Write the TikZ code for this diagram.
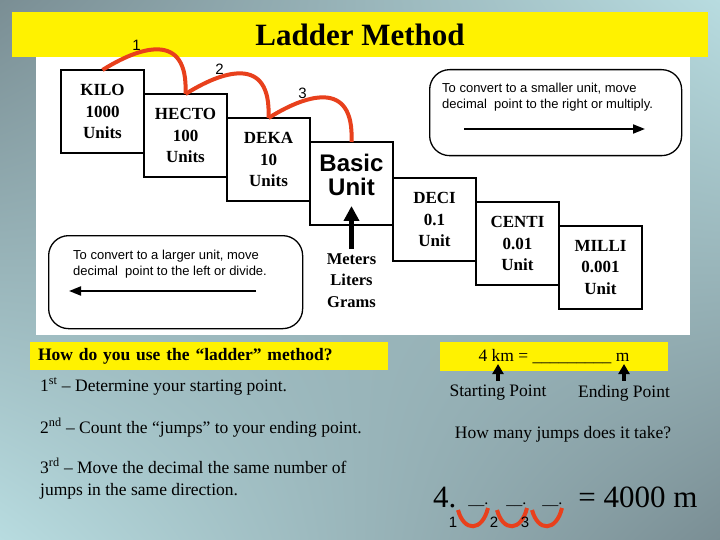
\documentclass[tikz,border=0pt]{standalone}
\usepackage{fontspec}
\setmainfont{Liberation Serif}
\setsansfont{Liberation Sans}
\usetikzlibrary{positioning,arrows.meta,shadings}

\definecolor{bgdark}{RGB}{122,142,148}
\definecolor{bglight}{RGB}{184,220,224}
\definecolor{jumpred}{RGB}{232,64,28}

\begin{document}
\begin{tikzpicture}[
    x=1pt, y=-1pt,
    unitbox/.style={draw, line width=1.4pt, minimum size=83pt, inner sep=0pt,
      outer sep=0pt, align=center, font=\bfseries\fontsize{17}{21.5}\selectfont},
    notebox/.style={draw, line width=1.3pt, rounded corners=20pt, minimum width=252pt,
      minimum height=86pt, inner sep=0pt},
    notetext/.style={align=left, inner sep=0pt, font=\sffamily\fontsize{13}{15.5}\selectfont},
    jumpline/.style={draw=jumpred, line width=4pt},
    jumpnum/.style={inner sep=1pt, font=\sffamily\fontsize{15}{15}\selectfont},
    yellowbar/.style={fill=yellow, inner sep=0pt},
    bodytext/.style={inner sep=0pt, font=\fontsize{17.5}{22}\selectfont},
    fatarrow/.style={line width=4.5pt, -{Triangle[length=15pt, width=15pt]}},
    midarrow/.style={line width=4pt, shorten <=4pt, -{Triangle[length=10pt, width=11pt]}},
    thinarrow/.style={line width=1.8pt, -{Triangle[length=12pt, width=9pt]}}
]

  \useasboundingbox (0,0) rectangle (720,540);

  % slide background
  \shade[upper left=bgdark, upper right=bglight, lower left=bglight, lower right=bgdark]
    (0,0) rectangle (720,540);
  \fill[white] (36,57) rectangle (690,335);

  \node[yellowbar, minimum width=696pt, minimum height=45pt,
    font=\bfseries\fontsize{31}{31}\selectfont] (title) at (360,34.5) {Ladder Method};

  % the ladder
  \node[unitbox] (kilo) at (102.5,111.5) {KILO\\1000\\Units};
  \node[unitbox, right=0pt of kilo, yshift=-24pt] (hecto) {HECTO\\100\\Units};
  \node[unitbox, right=0pt of hecto, yshift=-24pt] (deka) {DEKA\\10\\Units};
  \node[unitbox, right=0pt of deka, yshift=-24pt] (basic) {};
  \node[unitbox, right=0pt of basic, yshift=-36pt] (deci) {DECI\\0.1\\Unit};
  \node[unitbox, right=0pt of deci, yshift=-24pt] (centi) {CENTI\\0.01\\Unit};
  \node[unitbox, right=0pt of centi, yshift=-24pt] (milli) {MILLI\\0.001\\Unit};

  \node[align=center, font=\sffamily\bfseries\fontsize{24}{24}\selectfont]
    (basiclbl) at ([yshift=8.5pt]basic.center) {Basic\\Unit};
  \node[align=center, inner sep=4pt, below=24pt of basic,
    font=\bfseries\fontsize{16.5}{21.5}\selectfont] (meters) {Meters\\Liters\\Grams};
  \draw[fatarrow] (meters.north) -- ([yshift=19pt]basic.south);

  % jumps between the steps
  \foreach \a/\b [count=\n] in {kilo/hecto, hecto/deka, deka/basic}
    \draw[jumpline] (\a.north) .. controls +(35,-22) and +(3,-65) .. (\b.north)
      node[jumpnum, pos=0.3, above] {\n};

  % direction notes
  \node[notebox, anchor=north west] (smallerbox) at (429,69) {};
  \node[notetext, anchor=west] (smallertxt) at (442,97) {To convert to a smaller unit, move\\decimal\ \ point to the right or multiply.};
  \coordinate (smallerA) at (464,129);
  \coordinate (smallerB) at (645,129);
  \draw[thinarrow] (smallerA) -- (smallerB);

  \node[notebox, anchor=north west, minimum width=254pt, minimum height=93pt] (largerbox) at (48,235) {};
  \node[notetext, anchor=west] (largertxt) at (73,264) {To convert to a larger unit, move\\decimal\ \ point to the left or divide.};
  \coordinate (largerA) at (256,291);
  \coordinate (largerB) at (69,291);
  \draw[thinarrow] (largerA) -- (largerB);

  % how to use it
  \node[yellowbar, minimum width=358pt, minimum height=28pt, text width=342pt, align=left,
    font=\bfseries\fontsize{17.5}{22}\selectfont] (howto) at (209,356) {How do you use the “ladder” method?};
  \node[bodytext, anchor=base west] (step1) at (40,391) {1\textsuperscript{st} – Determine your starting point.};
  \node[bodytext, anchor=base west] (step2) at (40,433) {2\textsuperscript{nd} – Count the “jumps” to your ending point.};
  \node[bodytext, anchor=base west, align=left] (step3) at (40,495) {3\textsuperscript{rd} – Move the decimal the same number of\\jumps in the same direction.};

  % example
  \node[yellowbar, bodytext, minimum width=228pt, minimum height=29pt] (question) at (554,356.5) {4 km = \_\_\_\_\_\_\_\_\_ m};
  \node[bodytext] (startpt) at (498,393) {Starting Point};
  \node[bodytext] (endpt) at (624,393) {Ending Point};
  \coordinate (kmtip) at (498,364);
  \coordinate (mtip) at (624,364);
  \draw[midarrow] (startpt.north) -- (kmtip);
  \draw[midarrow] (endpt.north) -- (mtip);

  \node[bodytext] (jumps) at (563,434) {How many jumps does it take?};

  \node[anchor=base west, inner sep=0pt, font=\fontsize{31}{31}\selectfont] (answer) at (433,507)
    {4.\hspace{12pt}\raisebox{3pt}{\fontsize{16}{16}\selectfont\_\_.\hspace{18pt}\_\_.\hspace{16pt}\_\_.}\hspace{16pt}= 4000 m};

  \foreach \cx in {473,512,547}
    \draw[jumpline] (\cx-15,510) .. controls (\cx-9,532) and (\cx+9,532) .. (\cx+15,508);
  \foreach \lx [count=\j] in {453,494,525}
    \node[jumpnum] (ans\j) at (\lx,522) {\j};

\end{tikzpicture}
\end{document}
